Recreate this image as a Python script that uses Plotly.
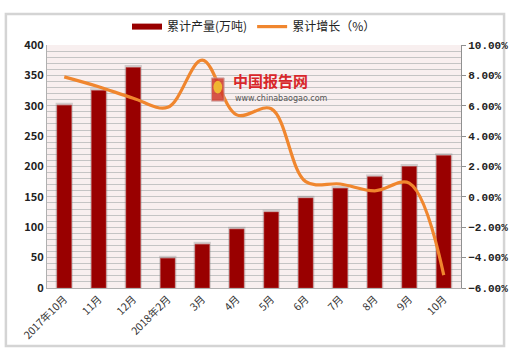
import plotly.graph_objects as go

categories = ["2017年10月", "11月", "12月", "2018年2月", "3月", "4月",
              "5月", "6月", "7月", "8月", "9月", "10月"]
output_wt = [301, 325, 363, 49, 72, 97, 125, 148, 164, 183, 200, 218]
growth_pct = [7.9, 7.25, 6.5, 5.9, 9.0, 5.4, 5.8, 1.0, 0.85, 0.4, 0.9, -5.15]

bar_name = "累计产量(万吨)"
line_name = "累计增长（%）"

FONT = "Noto Sans CJK SC"
BAR_COLOR = "#990000"

fig = go.Figure()

# soft shadow behind bars
fig.add_trace(go.Bar(
    x=categories, y=[v + 4 for v in output_wt], width=0.5,
    marker=dict(color="rgba(120,120,120,0.3)", line=dict(width=0)),
    showlegend=False, hoverinfo="skip", yaxis="y"))

fig.add_trace(go.Bar(
    x=categories, y=output_wt, name=bar_name, width=0.42,
    marker=dict(color=BAR_COLOR, line=dict(color="#b84040", width=0.6)),
    showlegend=False, yaxis="y"))

# legend entry for bars drawn as a thick line like the reference
fig.add_trace(go.Scatter(
    x=[None], y=[None], name=bar_name, mode="lines",
    line=dict(color=BAR_COLOR, width=6), yaxis="y"))

fig.add_trace(go.Scatter(
    x=categories, y=growth_pct, name=line_name, mode="lines",
    line=dict(color="#f0862e", width=3.2, shape="spline", smoothing=1.0),
    yaxis="y2"))

L, R, T, B = 47, 50, 37, 66
W, H = 520, 354
pw, ph = W - L - R, H - T - B


def px_x(x):
    return (x - L) / pw


def px_y(y):
    return (H - B - y) / ph


shapes = [
    # outer frame
    dict(type="rect", xref="paper", yref="paper",
         x0=px_x(5), x1=px_x(514), y0=px_y(348), y1=px_y(5),
         line=dict(color="#d4d4d4", width=2.5), fillcolor="rgba(0,0,0,0)",
         layer="below"),
    # watermark logo
    dict(type="rect", xref="paper", yref="paper",
         x0=px_x(215), x1=px_x(228), y0=px_y(95), y1=px_y(71),
         line=dict(color="#c8a0a0", width=1), fillcolor="#d23a2a",
         layer="above", opacity=0.85),
    dict(type="circle", xref="paper", yref="paper",
         x0=px_x(217), x1=px_x(226), y0=px_y(87), y1=px_y(74),
         line=dict(width=0), fillcolor="#f2c230", layer="above", opacity=0.9),
]

annotations = [
    dict(text="<b>中国报告网</b>", xref="paper", yref="paper",
         x=px_x(236), y=px_y(74), xanchor="left", yanchor="middle",
         showarrow=False, borderpad=0,
         font=dict(family=FONT, size=15, color="#d8262a")),
    dict(text="www.chinabaogao.com", xref="paper", yref="paper",
         x=px_x(238), y=px_y(92), xanchor="left", yanchor="middle",
         showarrow=False, borderpad=0,
         font=dict(family="DejaVu Sans", size=8, color="#555555")),
]

fig.update_layout(
    width=W, height=H,
    margin=dict(l=L, r=R, t=T, b=B),
    paper_bgcolor="white",
    plot_bgcolor="#f8efef",
    barmode="overlay",
    font=dict(family=FONT, size=11, color="#222222"),
    showlegend=True,
    legend=dict(orientation="h", x=0.5, xanchor="center",
                y=px_y(18), yanchor="middle",
                font=dict(family=FONT, size=12, color="#222222"),
                bgcolor="rgba(0,0,0,0)", itemwidth=30, traceorder="normal"),
    xaxis=dict(type="category", tickangle=-45,
               tickfont=dict(family=FONT, size=10.5, color="#333333"),
               showline=True, linecolor="#b0b0b0", linewidth=1,
               ticks="", showgrid=False),
    yaxis=dict(range=[0, 400], dtick=50, showgrid=True,
               gridcolor="#c4c4c4", gridwidth=1,
               minor=dict(dtick=10, showgrid=True, gridcolor="#c4c4c4", gridwidth=1),
               showline=True, linecolor="#b0b0b0", linewidth=1,
               zeroline=False,
               tickfont=dict(family=FONT, size=11, color="#222222", weight="bold")),
    yaxis2=dict(range=[-6, 10], dtick=2, overlaying="y", side="right",
                tickformat=".2f", ticksuffix="%", showgrid=False,
                zeroline=False, showline=True, linecolor="#909090",
                linewidth=1, ticks="outside", ticklen=4, tickcolor="#909090",
                tickfont=dict(family="Liberation Mono", size=11, color="#222222",
                              weight="bold")),
    shapes=shapes,
    annotations=annotations,
)

fig.write_html("out.html")
